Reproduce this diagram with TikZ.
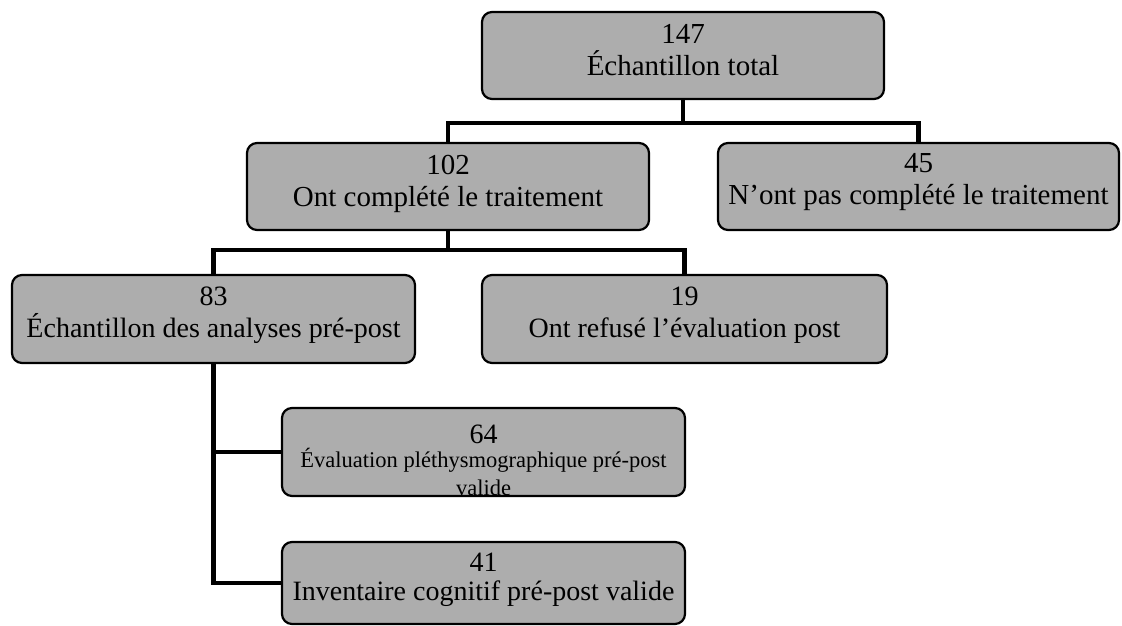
\documentclass[tikz,border=0pt]{standalone}
\usepackage{fontspec}
\setmainfont{Liberation Serif}
\begin{document}
\begin{tikzpicture}[x=1pt,y=-1pt,
  box/.style={draw=black, line width=2.2pt, rounded corners=10pt, fill=black!32, inner sep=0pt},
  conn/.style={draw=black, line width=4.8pt, line join=miter},
  big/.style={anchor=base, inner sep=0pt, font=\fontsize{29}{32}\selectfont},
  mid/.style={anchor=base, inner sep=0pt, font=\fontsize{28}{30}\selectfont},
  small/.style={anchor=base, inner sep=0pt, font=\fontsize{22.5}{24}\selectfont}]
\useasboundingbox (0,0) rectangle (1122,626);
% boxes
\node[box, minimum width=402pt, minimum height=87pt] (b147) at (683,55.5) {};
\node[box, minimum width=402pt, minimum height=87pt] (b102) at (448,186.5) {};
\node[box, minimum width=401pt, minimum height=87pt] (b45) at (918.5,186.5) {};
\node[box, minimum width=403pt, minimum height=88pt] (b83) at (213.5,319) {};
\node[box, minimum width=405pt, minimum height=88pt] (b19) at (684.5,319) {};
\node[box, minimum width=403pt, minimum height=88pt] (b64) at (483.5,452) {};
\node[box, minimum width=403pt, minimum height=82pt] (b41) at (483.5,583) {};
% connectors
\coordinate (j1) at (683,123);
\coordinate (j2) at (448,250);
\draw[conn] (b147.south) -- (j1);
\draw[conn] (b102.north) |- (j1) -| (b45.north);
\draw[conn] (b102.south) -- (j2);
\draw[conn] (b83.north) |- (j2) -| (b19.north);
\draw[conn] (b83.south) |- (b64.west);
\draw[conn] (b83.south) |- (b41.west);
% texts
\node[big] (t147a) at (683,44) {147};
\node[big] (t147b) at (683,75) {Échantillon total};
\node[big] (t102a) at (448,174) {102};
\node[big] (t102b) at (448,206) {Ont complété le traitement};
\node[big] (t45a) at (918.5,172) {45};
\node[big] (t45b) at (918.5,204) {N’ont pas complété le traitement};
\node[mid] (t83a) at (213.5,305) {83};
\node[mid] (t83b) at (213.5,337) {Échantillon des analyses pré-post};
\node[mid] (t19a) at (684.5,305) {19};
\node[mid] (t19b) at (684.5,337) {Ont refusé l’évaluation post};
\node[mid] (t64a) at (483.5,443) {64};
\node[small] (t64b) at (483.5,467) {Évaluation pléthysmographique pré-post};
\begin{scope}
  \clip ([shift={(1.1pt,1.1pt)}]b64.south west) rectangle ([shift={(-1.1pt,-1.1pt)}]b64.north east);
  \node[small] (t64c) at (483.5,495) {valide};
\end{scope}
\node[mid] (t41a) at (483.5,571) {41};
\node[mid] (t41b) at (483.5,600) {Inventaire cognitif pré-post valide};
\end{tikzpicture}
\end{document}
